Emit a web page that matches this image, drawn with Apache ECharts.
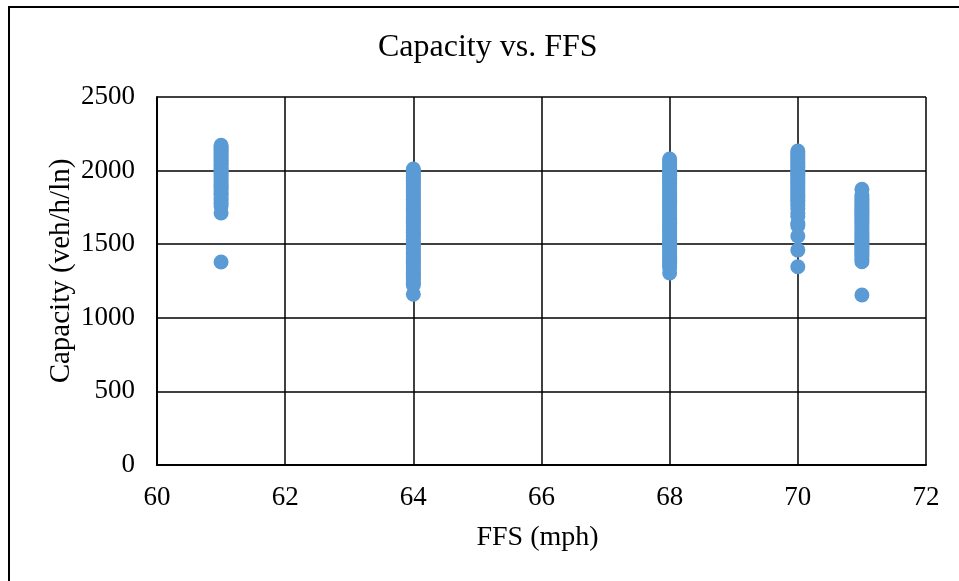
<!DOCTYPE html>
<html>
<head>
<meta charset="utf-8">
<title>Capacity vs. FFS</title>
<script src="https://cdn.jsdelivr.net/npm/echarts@6/dist/echarts.min.js"></script>
<style>
  html, body { margin: 0; padding: 0; background: #fff; }
  #chart { width: 959px; height: 581px; }
</style>
</head>
<body>
<div id="chart"></div>
<script>
// FFS values (mph) for each group of points
var ffsGroups = [61, 64, 68, 70, 71]

// capacity readings (veh/h/ln) per FFS group
var cap61 = [2172, 2160, 2148, 2135, 2122, 2110, 2096, 2084, 2070, 2058, 2045, 2032, 2018, 2005,
  1992, 1978, 1965, 1950, 1936, 1922, 1908, 1893, 1878, 1862, 1846, 1830, 1812, 1795, 1778, 1760, 1712, 1379]
var cap64 = [2011, 1998, 1985, 1970, 1955, 1940, 1926, 1910, 1895, 1880, 1866, 1850, 1835, 1820,
  1805, 1790, 1774, 1760, 1745, 1730, 1714, 1700, 1685, 1670, 1655, 1640, 1624, 1610, 1595, 1580,
  1565, 1550, 1534, 1520, 1505, 1490, 1475, 1460, 1445, 1430, 1415, 1400, 1385, 1370, 1354, 1340,
  1325, 1310, 1295, 1280, 1265, 1250, 1235, 1222, 1160]
var cap68 = [2079, 2066, 2052, 2038, 2025, 2010, 1996, 1982, 1968, 1954, 1940, 1926, 1912, 1898,
  1884, 1870, 1855, 1840, 1826, 1812, 1798, 1784, 1770, 1755, 1740, 1726, 1712, 1698, 1684, 1670,
  1655, 1640, 1626, 1612, 1598, 1584, 1570, 1555, 1540, 1526, 1512, 1498, 1484, 1470, 1455, 1440,
  1426, 1412, 1398, 1384, 1370, 1355, 1340, 1304]
var cap70 = [2133, 2120, 2106, 2092, 2078, 2064, 2050, 2036, 2022, 2008, 1994, 1980, 1966, 1952,
  1938, 1924, 1910, 1896, 1882, 1868, 1854, 1840, 1826, 1812, 1798, 1782, 1765, 1740, 1710, 1690,
  1640, 1626, 1556, 1460, 1347]
var cap71 = [1873, 1834, 1820, 1806, 1792, 1778, 1764, 1750, 1736, 1722, 1708, 1694, 1680, 1666,
  1652, 1638, 1624, 1610, 1596, 1582, 1568, 1554, 1540, 1526, 1512, 1498, 1484, 1470, 1456, 1442,
  1428, 1414, 1398, 1381, 1155]

var capGroups = [cap61, cap64, cap68, cap70, cap71]

// axis ticks
var xTicks = { min: 60, max: 72, step: 2 }
var yTicks = { min: 0, max: 2500, step: 500 }

var points = []
ffsGroups.forEach(function (ffs, i) {
  capGroups[i].forEach(function (c) {
    points.push([ffs, c])
  })
})

var serif = '"Liberation Serif", "Times New Roman", serif'
var myChart = echarts.init(document.getElementById('chart'))

var option = {
  backgroundColor: '#fff',
  animation: false,
  title: {
    text: 'Capacity vs. FFS',
    left: 373,
    top: 27,
    textStyle: { fontFamily: serif, fontSize: 32, fontWeight: 'normal', color: '#000' }
  },
  graphic: [
    {
      type: 'rect',
      shape: { x: 9, y: 7, width: 1000, height: 1000 },
      style: { fill: 'none', stroke: '#000', lineWidth: 2 },
      silent: true
    }
  ],
  grid: { left: 157, right: 33, top: 97, bottom: 116 },
  xAxis: {
    type: 'value',
    min: xTicks.min,
    max: xTicks.max,
    interval: xTicks.step,
    name: 'FFS (mph)',
    nameLocation: 'middle',
    nameGap: 59,
    nameMoveOverlap: false,
    nameTextStyle: { fontFamily: serif, fontSize: 28, color: '#000', padding: [0, 8, 0, 0] },
    axisLine: { show: true, lineStyle: { color: '#000', width: 2 } },
    axisTick: { show: false },
    axisLabel: { fontFamily: serif, fontSize: 27, color: '#000', margin: 19 },
    splitLine: { show: true, lineStyle: { color: '#000', width: 1.5 } }
  },
  yAxis: {
    type: 'value',
    min: yTicks.min,
    max: yTicks.max,
    interval: yTicks.step,
    name: 'Capacity (veh/h/ln)',
    nameLocation: 'middle',
    nameGap: 81,
    nameMoveOverlap: false,
    nameTextStyle: { fontFamily: serif, fontSize: 29, color: '#000', padding: [0, 0, 0, 20] },
    axisLine: { show: true, lineStyle: { color: '#000', width: 2 } },
    axisTick: { show: false },
    axisLabel: {
      fontFamily: serif, fontSize: 27, color: '#000', margin: 22,
      formatter: function (v) { return String(v) }
    },
    splitLine: { show: true, lineStyle: { color: '#000', width: 1.5 } }
  },
  series: [
    {
      type: 'scatter',
      symbol: 'circle',
      symbolSize: 15,
      itemStyle: { color: '#5B9BD5', opacity: 1 },
      data: points
    }
  ]
}
myChart.setOption(option)
</script>
</body>
</html>
